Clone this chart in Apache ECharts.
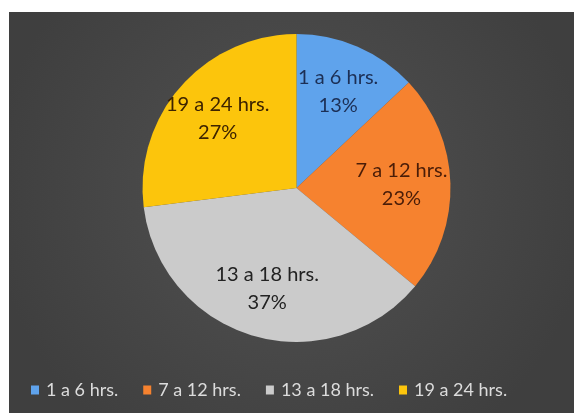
<!DOCTYPE html>
<html>
<head>
<meta charset="utf-8">
<script src="https://cdn.jsdelivr.net/npm/echarts@6/dist/echarts.min.js"></script>
<style>
  html, body { margin: 0; padding: 0; background: #ffffff; }
  #chart { position: absolute; left: 9px; top: 12px; width: 565px; height: 401px; }
</style>
</head>
<body>
<div id="chart"></div>
<script>
(function () {

    // data
    var categories = ['1 a 6 hrs.', '7 a 12 hrs.', '13 a 18 hrs.', '19 a 24 hrs.'];
    var percents = [13, 23, 37, 27];
    var sliceColors = ['#5fa3ec', '#f6822f', '#cbcbcb', '#fcc50c'];
    var labelColors = ['#1c2f55', '#4a1d08', '#222222', '#3d2300'];

    var pieData = categories.map(function (name, i) {
        return {
            name: name,
            value: percents[i],
            itemStyle: { color: sliceColors[i] }
        };
    });

    var option = {
        backgroundColor: {
            type: 'radial',
            x: 0.5, y: 0.45, r: 0.75,
            colorStops: [
                { offset: 0, color: '#525252' },
                { offset: 1, color: '#3f3f3f' }
            ]
        },
        legend: {
            bottom: 9,
            left: 17,
            itemWidth: 8,
            itemHeight: 9,
            itemGap: 25,
            icon: 'rect',
            data: categories,
            textStyle: {
                color: '#dcdcdc',
                fontFamily: 'Lato',
                fontSize: 18,
                padding: [0, 0, 0, 2]
            }
        },
        series: [
            {
                name: 'horas',
                type: 'pie',
                center: [287.5, 176],
                radius: [0, 154],
                startAngle: 90,
                clockwise: true,
                silent: true,
                label: { show: false },
                labelLine: { show: false },
                data: pieData
            },
            {
                // transparent ring only used to push the labels outward
                name: 'etiquetas',
                type: 'pie',
                center: [287.5, 176],
                radius: [50, 154],
                startAngle: 90,
                clockwise: true,
                silent: true,
                itemStyle: { color: 'rgba(0,0,0,0)' },
                label: {
                    show: true,
                    position: 'inside',
                    fontFamily: 'Lato',
                    fontSize: 20,
                    lineHeight: 28,
                    formatter: function (p) {
                        return p.name + '\n' + p.value + '%';
                    }
                },
                labelLine: { show: false },
                data: categories.map(function (name, i) {
                    return { name: name, value: percents[i], label: { color: labelColors[i] } };
                })
            }
        ]
    };

    var myChart = echarts.init(document.getElementById('chart'));
    myChart.setOption(option);

})();
</script>
</body>
</html>
